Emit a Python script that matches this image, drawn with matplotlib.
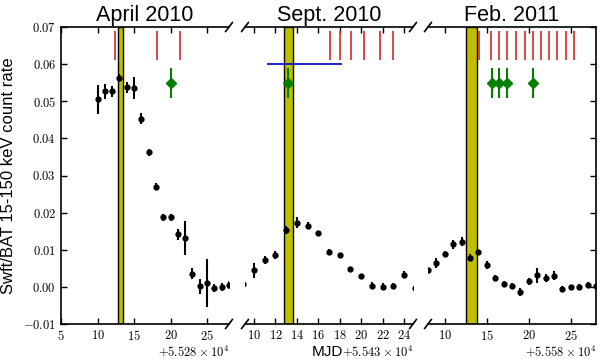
import matplotlib
matplotlib.use('Agg')
import matplotlib.pyplot as plt
from matplotlib.ticker import MultipleLocator, FuncFormatter

plt.rcParams['mathtext.fontset'] = 'cm'
plt.rcParams['font.family'] = ['Liberation Sans', 'DejaVu Sans']

# panel definitions: MJD offset, titles, x limits (days after offset)
titles = ['April 2010', 'Sept. 2010', 'Feb. 2011']
offsets = [55280, 55430, 55580]
offset_labels = [r'$+5.528\times10^{4}$', r'$+5.543\times10^{4}$', r'$+5.558\times10^{4}$']
xlims = [(5, 28), (9.15, 24.85), (8, 28)]
tick_steps = [5, 2, 5]

# Swift/BAT daily count rate
days_apr = [10, 11, 12, 13, 14, 15, 16, 17, 18, 19, 20, 21, 22, 23, 24, 25, 26, 27, 28]
rate_apr = [0.0505, 0.0527, 0.0527, 0.0563, 0.0538, 0.0535, 0.0453, 0.0362, 0.0270, 0.0187,
            0.0187, 0.0142, 0.0132, 0.0036, 0.0002, 0.0010, -0.0003, 0.0000, 0.0005]
err_apr = [0.0040, 0.0020, 0.0015, 0.0010, 0.0015, 0.0030, 0.0015, 0.0010, 0.0010, 0.0010,
           0.0010, 0.0015, 0.0045, 0.0015, 0.0020, 0.0065, 0.0010, 0.0010, 0.0010]

days_sep = [9, 10, 11, 12, 13, 14, 15, 16, 17, 18, 19, 20, 21, 22, 23, 24, 25]
rate_sep = [0.0009, 0.0045, 0.0072, 0.0086, 0.0153, 0.0173, 0.0165, 0.0145, 0.0093, 0.0086,
            0.0048, 0.0029, 0.0003, 0.0001, 0.0003, 0.0033, -0.0002]
err_sep = [0.0005, 0.0020, 0.0010, 0.0010, 0.0010, 0.0015, 0.0010, 0.0005, 0.0008, 0.0005,
           0.0005, 0.0007, 0.0010, 0.0010, 0.0007, 0.0010, 0.0005]

days_feb = [8, 9, 10, 11, 12, 13, 14, 15, 16, 17, 18, 19, 20, 21, 22, 23, 24, 25, 26, 27, 28]
rate_feb = [0.0045, 0.0064, 0.0089, 0.0115, 0.0122, 0.0079, 0.0094, 0.0059, 0.0023, 0.0009,
            0.0003, -0.0014, 0.0015, 0.0031, 0.0024, 0.0030, -0.0005, 0.0000, 0.0001, 0.0006, 0.0002]
err_feb = [0.0005, 0.0013, 0.0007, 0.0012, 0.0013, 0.0010, 0.0006, 0.0010, 0.0008, 0.0008,
           0.0007, 0.0010, 0.0009, 0.0020, 0.0010, 0.0012, 0.0008, 0.0005, 0.0007, 0.0006, 0.0005]

all_days = [days_apr, days_sep, days_feb]
all_rates = [rate_apr, rate_sep, rate_feb]
all_errs = [err_apr, err_sep, err_feb]

# shaded bands (periastron passages)
bands = [(12.85, 13.45), (12.8, 13.6), (12.55, 13.8)]

# red marks (observations) at top
marks = [[12.4, 18.2, 21.3],
         [17.07, 18.0, 19.1, 20.3, 21.8, 23.0],
         [14.1, 15.5, 16.46, 17.44, 18.47, 19.53, 20.5, 21.4, 22.4, 23.4, 24.4, 25.4]]
mark_lo, mark_hi = 0.061, 0.069

# green points
green_days = [[20.0], [13.2], [15.6, 16.5, 17.4, 20.5]]
green_rate = 0.055
green_err = 0.004

# blue horizontal bar in Sept. panel
blue_span = (11.25, 18.25)
blue_level = 0.060

fig = plt.figure(figsize=(6.0, 3.59), dpi=100)
lefts = [61 / 600, 245 / 600, 428 / 600]
w = 168 / 600
bottom = 35 / 359
h = 297 / 359
axes = [fig.add_axes([l, bottom, w, h]) for l in lefts]

for i, ax in enumerate(axes):
    off = offsets[i]
    x = [off + d for d in all_days[i]]
    ax.errorbar(x, all_rates[i], yerr=all_errs[i], fmt='o', color='k', ms=3.5,
                elinewidth=1.5, capsize=0, zorder=3)
    ax.axvspan(off + bands[i][0], off + bands[i][1], facecolor=(0.75, 0.75, 0),
               edgecolor='k', lw=1, zorder=2)
    ax.vlines([off + m for m in marks[i]], mark_lo, mark_hi, color='#e23636', lw=1.3, zorder=3)
    gx = [off + g for g in green_days[i]]
    ax.errorbar(gx, [green_rate] * len(gx), yerr=green_err, fmt='D', color='#007f00',
                ms=5, elinewidth=1.5, capsize=0, zorder=4)
    ax.set_xlim(off + xlims[i][0], off + xlims[i][1])
    ax.set_ylim(-0.01, 0.07)
    ax.xaxis.set_major_locator(MultipleLocator(tick_steps[i]))
    ax.xaxis.set_major_formatter(FuncFormatter(lambda v, p, o=off: r'$%d$' % round(v - o)))
    ax.tick_params(axis='both', direction='in', length=4, width=1, labelsize=9,
                   top=True, bottom=True)
    for s in ax.spines.values():
        s.set_linewidth(1.2)
    ax.set_title(titles[i], fontsize=15.5, pad=4)
    ax.text(1.0, -0.065, offset_labels[i], transform=ax.transAxes, ha='right', va='top',
            fontsize=9)

axes[1].hlines(blue_level, offsets[1] + blue_span[0], offsets[1] + blue_span[1],
               color='#1010c0', lw=1.3, zorder=3)

# spines / y axes
axes[0].spines['right'].set_visible(False)
axes[0].yaxis.set_major_locator(MultipleLocator(0.01))
axes[0].yaxis.set_major_formatter(FuncFormatter(lambda v, p: r'$%.2f$' % v))
axes[0].tick_params(axis='y', left=True, right=False)
axes[0].set_ylabel('Swft/BAT 15-150 keV count rate', fontsize=12)
axes[0].yaxis.set_label_coords(-0.27, 0.5)

axes[1].spines['left'].set_visible(False)
axes[1].spines['right'].set_visible(False)
axes[1].tick_params(axis='y', left=False, right=False, labelleft=False)

axes[2].spines['left'].set_visible(False)
axes[2].yaxis.set_major_locator(MultipleLocator(0.01))
axes[2].tick_params(axis='y', left=False, right=True, labelleft=False, labelright=False)

# break marks
dx, dy = 0.02, 0.015
kw = dict(color='k', lw=1.2, clip_on=False)
for i, ax in enumerate(axes):
    ends = []
    if i < 2:
        ends.append(1)
    if i > 0:
        ends.append(0)
    for e in ends:
        for yy in (0, 1):
            ax.plot((e - dx, e + dx), (yy - dy, yy + dy), transform=ax.transAxes, **kw)

fig.text(343 / 600, 3 / 359, 'MJD', ha='right', va='baseline', fontsize=11)

fig.savefig('out.png', dpi=100)
